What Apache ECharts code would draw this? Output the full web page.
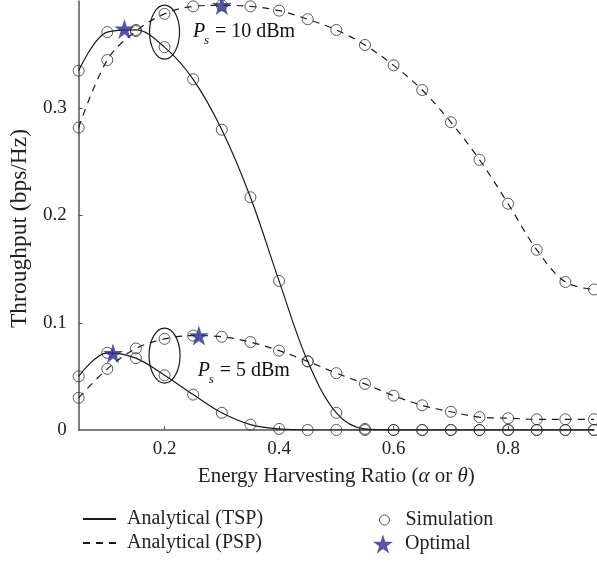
<!DOCTYPE html>
<html>
<head>
<meta charset="utf-8">
<script src="https://cdn.jsdelivr.net/npm/echarts@6/dist/echarts.min.js"></script>
<style>
html,body{margin:0;padding:0;background:#fff;}
#chart{width:597px;height:562px;}
</style>
</head>
<body>
<div id="chart"></div>
<script>
// ---- data ----
const ratios = [0.05,0.10,0.15,0.20,0.25,0.30,0.35,0.40,0.45,0.50,0.55,0.60,0.65,0.70,0.75,0.80,0.85,0.90,0.95];
const tsp10 = [0.335,0.371,0.373,0.357,0.327,0.280,0.217,0.139,0.064,0.016,0.001,0,0,0,0,0,0,0,0];
const psp10 = [0.282,0.345,0.372,0.388,0.395,0.396,0.395,0.391,0.383,0.373,0.359,0.340,0.317,0.287,0.252,0.211,0.168,0.138,0.131];
const tsp5  = [0.050,0.072,0.067,0.051,0.033,0.016,0.005,0.001,0,0,0,0,0,0,0,0,0,0,0];
const psp5  = [0.030,0.057,0.076,0.085,0.088,0.087,0.082,0.074,0.064,0.053,0.043,0.032,0.023,0.017,0.012,0.011,0.010,0.010,0.010];
const optimalX = [0.13, 0.30, 0.11, 0.26];
const optimalY = [0.374, 0.396, 0.0715, 0.088];
const xTicks = [0.2, 0.4, 0.6, 0.8];
const yTicks = [0, 0.1, 0.2, 0.3];
const labels = ['Analytical (TSP)', 'Analytical (PSP)', 'Simulation', 'Optimal'];

const FONT = '"Liberation Serif", "Times New Roman", serif';
const STAR = 'path://M50,0 L61.2,34.5 L97.6,34.5 L68.2,55.9 L79.4,90.5 L50,69.1 L20.6,90.5 L31.8,55.9 L2.4,34.5 L38.8,34.5 Z';
const STAR_COLOR = '#2e2a8f';

function pairs(ys){ return ratios.map((x,i)=>[x, ys[i]]); }

const lineBase = (name, ys, dashed) => ({
  name: name, type: 'line', data: pairs(ys), smooth: 0.35,
  symbol: 'none', showSymbol: false, silent: true, z: 2,
  lineStyle: {color: '#1a1a1a', width: 1.2, type: dashed ? [7,6] : 'solid'},
  itemStyle: {color: '#1a1a1a'}
});

const simData = [].concat(pairs(tsp10), pairs(psp10), pairs(tsp5), pairs(psp5));
const optData = optimalX.map((x,i)=>[x, optimalY[i]]);

const chart = echarts.init(document.getElementById('chart'), null, {renderer: 'canvas'});
chart.setOption({
  animation: false,
  backgroundColor: '#fff',
  grid: {left: 77, right: 3, top: 1, bottom: 132, containLabel: false},
  xAxis: {
    type: 'value', min: 0.05, max: 0.95,
    name: 'Energy Harvesting Ratio ({i|α} or {i|θ})',
    nameLocation: 'middle', nameGap: 36,
    nameTextStyle: {fontFamily: FONT, fontSize: 21, color: '#222',
      rich: {i: {fontFamily: FONT, fontSize: 21, fontStyle: 'italic', color: '#222'}}},
    axisLine: {show: true, onZero: false, lineStyle: {color: '#555', width: 1.5}},
    axisTick: {show: true, inside: true, length: 4, customValues: xTicks, lineStyle: {color: '#555'}},
    axisLabel: {customValues: xTicks, fontFamily: FONT, fontSize: 19, color: '#222', margin: 10,
      formatter: v => String(v)},
    splitLine: {show: false}
  },
  yAxis: {
    type: 'value', min: 0, max: 0.4,
    name: 'Throughput (bps/Hz)', nameLocation: 'middle', nameGap: 41,
    nameTextStyle: {fontFamily: FONT, fontSize: 23.5, color: '#222', padding: [0, 26, 0, 0]},
    axisLine: {show: true, onZero: false, lineStyle: {color: '#555', width: 1.5}},
    axisTick: {show: true, inside: true, length: 4, customValues: yTicks.slice(1), lineStyle: {color: '#555'}},
    axisLabel: {customValues: yTicks, fontFamily: FONT, fontSize: 19, color: '#222', margin: 12,
      formatter: v => String(v)},
    splitLine: {show: false}
  },
  legend: [
    {data: [labels[0], labels[1]], orient: 'vertical', left: 77, top: 504, itemWidth: 33, itemHeight: 14,
     itemGap: 4, selectedMode: false,
     itemStyle: {opacity: 0},
     textStyle: {fontFamily: FONT, fontSize: 20, color: '#222', padding: [0,0,0,6]}},
    {data: [{name: labels[2], icon: 'circle'}], orient: 'vertical', left: 374, top: 505, itemWidth: 10, itemHeight: 10,
     selectedMode: false,
     itemStyle: {color: 'rgba(0,0,0,0)', borderColor: '#333', borderWidth: 1},
     textStyle: {fontFamily: FONT, fontSize: 20, color: '#222', padding: [0,0,0,11]}},
    {data: [{name: labels[3], icon: STAR}], orient: 'vertical', left: 368, top: 529, itemWidth: 20, itemHeight: 20,
     selectedMode: false,
     textStyle: {fontFamily: FONT, fontSize: 20, color: '#222', padding: [0,0,0,7]}}
  ],
  series: [
    lineBase(labels[0], tsp10, false),
    lineBase(labels[0], tsp5, false),
    lineBase(labels[1], psp10, true),
    lineBase(labels[1], psp5, true),
    {name: labels[2], type: 'scatter', data: simData, symbol: 'circle', symbolSize: 11, z: 3,
     itemStyle: {color: 'rgba(0,0,0,0)', borderColor: '#333', borderWidth: 1}},
    {name: labels[3], type: 'scatter', data: optData, symbol: STAR, symbolSize: 20, z: 4,
     itemStyle: {color: STAR_COLOR}}
  ]
});

// ---- annotations (ellipses and P_s labels) placed in data coordinates ----
function px(x, y){ return chart.convertToPixel({gridIndex: 0}, [x, y]); }
function psLabel(id, x, y, rest){
  const p = px(x, y);
  return {type: 'group', id: id, x: p[0], y: p[1], z: 10, children: [
    {type: 'text', x: 0, y: 0, style: {text: 'P', fontFamily: FONT, fontSize: 20, fontStyle: 'italic', fill: '#111', verticalAlign: 'bottom'}},
    {type: 'text', x: 11, y: 5, style: {text: 's', fontFamily: FONT, fontSize: 13, fontStyle: 'italic', fill: '#111', verticalAlign: 'bottom'}},
    {type: 'text', x: 17, y: 0, style: {text: rest, fontFamily: FONT, fontSize: 20, fill: '#111', verticalAlign: 'bottom'}}
  ]};
}
const e1 = px(0.2, 0.371), e2 = px(0.2, 0.0694);
chart.setOption({graphic: [
  {type: 'ellipse', shape: {cx: e1[0], cy: e1[1], rx: 15, ry: 27}, style: {fill: 'none', stroke: '#1a1a1a', lineWidth: 1.2}, z: 10},
  {type: 'ellipse', shape: {cx: e2[0], cy: e2[1], rx: 15.5, ry: 27.5}, style: {fill: 'none', stroke: '#1a1a1a', lineWidth: 1.2}, z: 10},
  psLabel('l10', 0.2495, 0.362, ' = 10 dBm'),
  psLabel('l5', 0.258, 0.046, ' = 5 dBm')
]});
</script>
</body>
</html>
